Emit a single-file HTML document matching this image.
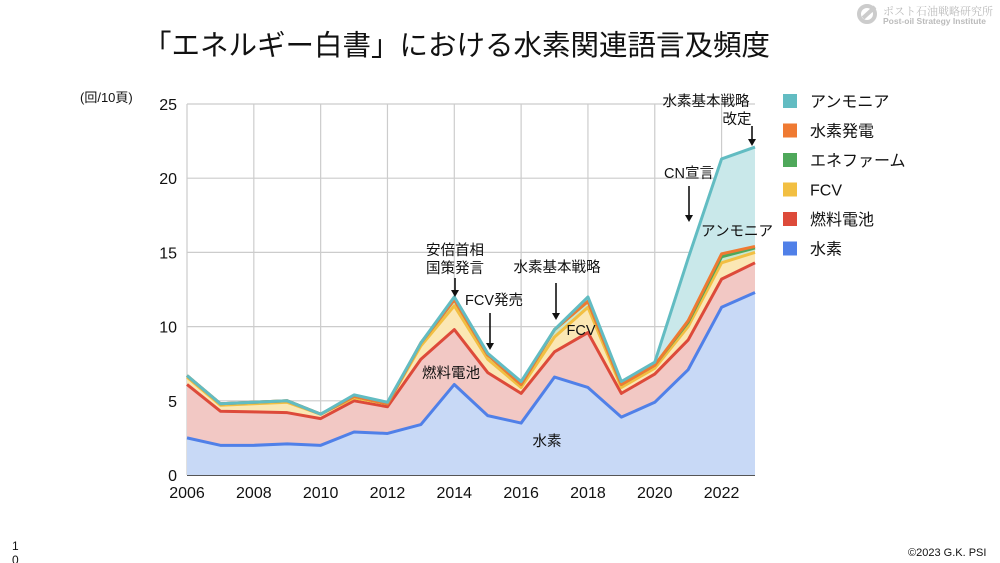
<!DOCTYPE html>
<html><head><meta charset="utf-8">
<style>
body{margin:0;background:#fff;}
#wrap{position:relative;width:1000px;height:563px;overflow:hidden;font-family:"Liberation Sans","Noto Sans CJK JP",sans-serif;}
.t{position:absolute;white-space:nowrap;color:#111;}
</style></head>
<body>
<div id="wrap">
<div class="t" style="left:143px;top:23px;font-size:28.5px;">「エネルギー白書」における水素関連語言及頻度</div>
<div class="t" style="left:883px;top:3px;font-size:11px;color:#bbb;font-family:'Noto Serif CJK SC',serif;">ポスト石油戦略研究所</div>
<div class="t" style="left:883px;top:16px;font-size:8.5px;color:#bbb;font-weight:bold;">Post-oil Strategy Institute</div>
<svg style="position:absolute;left:856px;top:3px" width="22" height="22"><circle cx="11" cy="11" r="8" fill="none" stroke="#ccc" stroke-width="4"/><path d="M7 15 L19 4" stroke="#ccc" stroke-width="4"/></svg>
<div class="t" style="left:908px;top:547px;font-size:11px;">©2023 G.K. PSI</div>
<div class="t" style="left:12px;top:539px;font-size:12px;line-height:14px;">1<br>0</div>
<svg id="chart" width="1000" height="563" style="position:absolute;left:0;top:0"></svg>
</div>
<script>
const years=[2006,2007,2008,2009,2010,2011,2012,2013,2014,2015,2016,2017,2018,2019,2020,2021,2022,2023];
const hydrogen=[2.5,2.0,2.0,2.1,2.0,2.9,2.8,3.4,6.1,4.0,3.5,6.6,5.9,3.9,4.9,7.1,11.3,12.3];
const fuelCell=[3.6,2.3,2.25,2.1,1.8,2.1,1.8,4.4,3.7,2.9,2.0,1.7,3.7,1.6,1.9,2.0,1.9,2.0];
const fcv=[0.5,0.4,0.55,0.7,0.3,0.2,0.2,0.9,1.6,0.9,0.4,1.0,1.7,0.4,0.4,0.9,1.1,0.7];
const eneFarm=[0.1,0.1,0.1,0.1,0,0.1,0,0.2,0.4,0.3,0.2,0.5,0.4,0.2,0.2,0.3,0.4,0.3];
const electrolysis=[0,0,0,0,0,0,0,0,0,0,0,0,0,0,0,0.1,0.2,0.1];
const ammonia=[0,0,0,0,0,0.1,0.1,0,0.2,0.1,0.2,0,0.3,0.2,0.2,4.2,6.4,6.7];
const yTicks=[0,5,10,15,20,25];
const xTicks=[2006,2008,2010,2012,2014,2016,2018,2020,2022];
const seriesNames=["水素","燃料電池","FCV","エネファーム","水素発電","アンモニア"];
const seriesColors=["#5080e8","#dd4a3a","#f2bf42","#4ea85a","#ef7a32","#62bcc2"];
const fillColors=["#c8d9f6","#f2c8c4","#fbe7b4","#cbe6ce","#fad6c0","#c9e8ea"];
const svg=document.getElementById('chart');
const NS="http://www.w3.org/2000/svg";
const X0=187,X1=755,Y0=475,Y1=104;
const xs=v=>X0+(v-2006)/(2023-2006)*(X1-X0);
const ys=v=>Y0-v/25*(Y0-Y1);
function mk(tag,attrs,txt){const e=document.createElementNS(NS,tag);for(const k in attrs)e.setAttribute(k,attrs[k]);if(txt!==undefined)e.textContent=txt;svg.appendChild(e);return e;}
yTicks.forEach(t=>{const l=mk('line',{x1:X0,x2:X1,y1:ys(t),y2:ys(t),stroke:t===0?'#555':'#ccc','stroke-width':t===0?2:1.2});


const tx=mk('text',{x:177,y:ys(t)+6,'text-anchor':'end','font-size':16,fill:'#111'},t);

});
for(let y=2006;y<=2023;y+=2){const l=mk('line',{x1:xs(y),x2:xs(y),y1:Y1,y2:Y0,stroke:'#ccc','stroke-width':1.2});

}
xTicks.forEach(t=>{const tx=mk('text',{x:xs(t),y:498,'text-anchor':'middle','font-size':16,fill:'#111'},t);

});
const yt=mk('text',{x:80,y:102,'font-size':13,fill:'#111'},'(回/10頁)');


const all=[hydrogen,fuelCell,fcv,eneFarm,electrolysis,ammonia];
let base=years.map(()=>0);
const tops=[];
all.forEach((s,i)=>{const top=base.map((b,j)=>b+s[j]);
let d='M'+years.map((y,j)=>xs(y)+','+ys(top[j])).join('L');
d+='L'+years.slice().reverse().map((y,j)=>xs(y)+','+ys(base[years.length-1-j])).join('L')+'Z';
const a=mk('path',{d:d,fill:fillColors[i],stroke:'none'});


tops.push(top);base=top;});
tops.forEach((top,i)=>{const l=mk('polyline',{points:years.map((y,j)=>xs(y)+','+ys(top[j])).join(' '),fill:'none',stroke:seriesColors[i],'stroke-width':3,'stroke-linejoin':'round'});

});
const legendOrder=[5,4,3,2,1,0];
legendOrder.forEach((si,k)=>{const y=102+k*29.5;
const r=mk('rect',{x:783,y:y-8,width:14,height:14,fill:seriesColors[si]});


const t=mk('text',{x:810,y:y+5,'font-size':16,fill:'#111'},seriesNames[si]);

});
function note(txt,x,y,name){const t=mk('text',{x:x,y:y,'font-size':14.5,fill:'#111','text-anchor':'middle'},txt);

}
function arrow(x,y1,y2,name){const l=mk('line',{x1:x,x2:x,y1:y1,y2:y2-6,stroke:'#111','stroke-width':1.6});


const p=mk('path',{d:`M${x-4},${y2-7}L${x+4},${y2-7}L${x},${y2}Z`,fill:'#111'});

}
note('安倍首相',455,255,'note-abe');note('国策発言',455,273,'note-abe-2');arrow(455,278,297,'arrow-abe');
note('FCV発売',494,305,'note-fcv-launch');arrow(490,313,350,'arrow-fcv');
note('水素基本戦略',557,272,'note-strategy');arrow(556,283,320,'arrow-strategy');
note('水素基本戦略',706,106,'note-strategy-rev');note('改定',737,124,'note-strategy-rev-2');arrow(752,126,146,'arrow-rev');
note('CN宣言',689,178,'note-cn');arrow(689,186,222,'arrow-cn');
note('アンモニア',737,236,'label-ammonia');
note('FCV',581,335,'label-fcv');
note('燃料電池',451,378,'label-fuelcell');
note('水素',547,446,'label-hydrogen');
</script>
</body></html>
